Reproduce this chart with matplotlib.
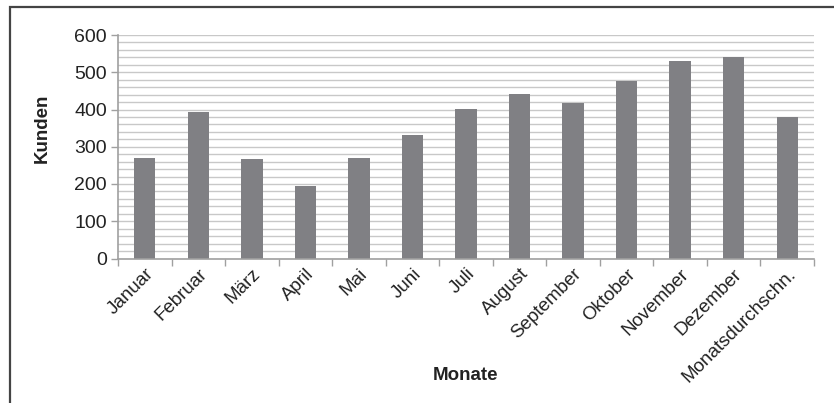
import numpy as np
import matplotlib.pyplot as plt
from matplotlib.patches import Rectangle
from matplotlib.ticker import MultipleLocator

plt.rcParams['font.family'] = ['Liberation Sans', 'DejaVu Sans']

monate = ['Januar', 'Februar', 'März', 'April', 'Mai', 'Juni', 'Juli', 'August',
          'September', 'Oktober', 'November', 'Dezember', 'Monatsdurchschn.']
kunden = [269, 392, 266, 195, 269, 331, 401, 442, 417, 477, 529, 541, 381]

bar_color = '#808084'
grid_color = '#c8c8c8'
axis_color = '#a0a0a0'
text_color = '#222222'

fig = plt.figure(figsize=(8.34, 4.03), dpi=100)
ax = fig.add_axes([118 / 834, 1 - 258.5 / 403, (814 - 118) / 834, (258.5 - 35) / 403])

x = np.arange(len(monate))
ax.bar(x, kunden, width=0.4, color=bar_color, zorder=3)

ax.set_xlim(-0.5, len(monate) - 0.5)
ax.set_ylim(0, 600)
ax.yaxis.set_major_locator(MultipleLocator(100))
ax.yaxis.set_minor_locator(MultipleLocator(20))
ax.grid(axis='y', which='both', color=grid_color, linewidth=1.0, zorder=0)

# ticks between categories, labels at the centers
ax.set_xticks(np.arange(len(monate) + 1) - 0.5)
ax.set_xticklabels([])
ax.set_xticks(x, minor=True)
ax.set_xticklabels(monate, minor=True, rotation=45, ha='right', va='top',
                   rotation_mode='anchor', fontsize=13.5, color=text_color)
ax.tick_params(axis='x', which='major', length=5, color=axis_color, width=1)
ax.tick_params(axis='x', which='minor', length=0, pad=5)
ax.tick_params(axis='y', which='major', length=5, color=axis_color, width=1,
               labelsize=14, labelcolor=text_color, pad=3)
ax.tick_params(axis='y', which='minor', length=0)

for side in ['top', 'right']:
    ax.spines[side].set_visible(False)
for side in ['left', 'bottom']:
    ax.spines[side].set_color(axis_color)
    ax.spines[side].set_linewidth(1.2)
    ax.spines[side].set_zorder(4)

fig.text(42 / 834, 1 - 128 / 403, 'Kunden', rotation=90, ha='center', va='center',
         fontsize=13.5, fontweight='bold', color=text_color)
fig.text(466 / 834, 1 - 376 / 403, 'Monate', ha='center', va='center',
         fontsize=13.5, fontweight='bold', color=text_color)

# outer frame (only left and top edges fall inside the picture)
fig.patches.append(Rectangle((10 / 834, -0.1), 1.2, 1.1 - 7 / 403,
                             transform=fig.transFigure, fill=False,
                             edgecolor='#444444', linewidth=1.6))

fig.savefig('out.png', dpi=100)
